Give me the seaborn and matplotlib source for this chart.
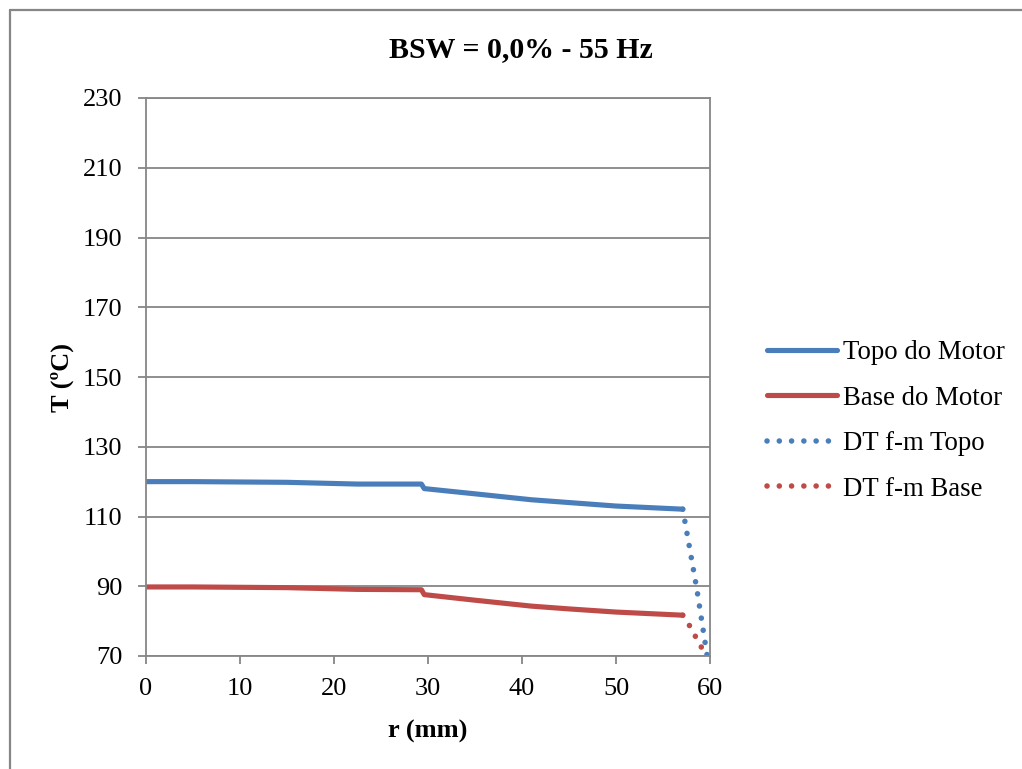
import matplotlib
matplotlib.use("Agg")
import matplotlib.pyplot as plt
from matplotlib.lines import Line2D
import numpy as np
import pandas as pd
import seaborn as sns

# Radial temperature profiles (r in mm, T in ºC)
r_motor = [0, 5, 10, 15, 22.5, 29.3, 29.6, 35, 41, 45, 50, 57.1]
t_topo = [120.0, 120.0, 119.9, 119.8, 119.3, 119.3, 118.0, 116.5, 114.8, 114.0, 113.0, 112.1]
t_base = [89.8, 89.8, 89.7, 89.6, 89.1, 89.0, 87.6, 86.0, 84.3, 83.5, 82.6, 81.7]

# Fluid-motor temperature drop near the wall
r_dt_topo = [57.1, 58.6, 59.7]
t_dt_topo = [112.1, 89.2, 70.0]
r_dt_base = [57.1, 57.8, 59.6]
t_dt_base = [81.7, 78.8, 70.0]

series_names = ["Topo do Motor", "Base do Motor", "DT f-m Topo", "DT f-m Base"]
x_ticks = [0, 10, 20, 30, 40, 50, 60]
y_ticks = [70, 90, 110, 130, 150, 170, 190, 210, 230]

title = "BSW = 0,0% - 55 Hz"
x_label = "r (mm)"
y_label = "T (ºC)"

BLUE = "#4A7EBB"
RED = "#BE4B48"
GRAY = "#868686"

sns.set_theme(style="white")
plt.rcParams["font.family"] = ["Liberation Serif", "DejaVu Serif"]
plt.rcParams["text.color"] = "black"
plt.rcParams["axes.labelcolor"] = "black"

frames = [
    pd.DataFrame({"r": r_motor, "T": t_topo, "serie": series_names[0]}),
    pd.DataFrame({"r": r_motor, "T": t_base, "serie": series_names[1]}),
    pd.DataFrame({"r": r_dt_topo, "T": t_dt_topo, "serie": series_names[2]}),
    pd.DataFrame({"r": r_dt_base, "T": t_dt_base, "serie": series_names[3]}),
]
colors = [BLUE, RED, BLUE, RED]

fig = plt.figure(figsize=(10.22, 7.69), dpi=100)
W, H = 1022, 769
ax = fig.add_axes([146 / W, 1 - 656 / H, (710 - 146) / W, (656 - 98) / H])

lw = 3.7
dot_lw = 4.0
dots = (0, (0.01, 2.2))
for df, c in zip(frames, colors):
    dotted = df["serie"].iloc[0].startswith("DT")
    sns.lineplot(data=df, x="r", y="T", ax=ax, color=c,
                 linewidth=dot_lw if dotted else lw,
                 sort=False, legend=False, estimator=None)
    line = ax.lines[-1]
    line.set_solid_capstyle("round")
    line.set_solid_joinstyle("round")
    if dotted:
        line.set_linestyle(dots)
        line.set_dash_capstyle("round")

ax.set_xlim(0, 60)
ax.set_ylim(70, 230)
ax.set_xticks(x_ticks)
ax.set_yticks(y_ticks)
ax.yaxis.grid(True, color=GRAY, linewidth=1.3)
ax.xaxis.grid(False)
for s in ax.spines.values():
    s.set_color(GRAY)
    s.set_linewidth(1.3)
ax.tick_params(axis="both", which="major", direction="out", length=6,
               width=1.3, color=GRAY, labelsize=19, labelcolor="black")
ax.tick_params(axis="y", pad=11, left=True)
ax.tick_params(axis="x", pad=10, bottom=True)

ax.set_xlabel(x_label, fontsize=19, fontweight="bold", labelpad=14,
              color="black")
ax.set_ylabel(y_label, fontsize=19, fontweight="bold", labelpad=6,
              color="black")
fig.text(521 / W, 1 - 50 / H, title, ha="center", va="center",
         fontsize=21.5, fontweight="bold", color="black")

handles = [
    Line2D([], [], color=BLUE, linewidth=lw, solid_capstyle="round"),
    Line2D([], [], color=RED, linewidth=lw, solid_capstyle="round"),
    Line2D([], [], color=BLUE, linewidth=dot_lw, linestyle=dots,
           dash_capstyle="round"),
    Line2D([], [], color=RED, linewidth=dot_lw, linestyle=dots,
           dash_capstyle="round"),
]
fig.legend(handles, series_names, loc="center left",
           bbox_to_anchor=(767 / W, 1 - 421 / H), frameon=False,
           fontsize=19.3, handlelength=2.6, handletextpad=0.25,
           labelspacing=0.76, borderaxespad=0, borderpad=0,
           labelcolor="black")

# Chart area border (left and top edges)
fig.add_artist(Line2D([9.5 / W, 9.5 / W], [0, 1 - 9.5 / H], color=GRAY,
                      linewidth=1.6, transform=fig.transFigure))
fig.add_artist(Line2D([9.5 / W, 1], [1 - 9.5 / H, 1 - 9.5 / H], color=GRAY,
                      linewidth=1.6, transform=fig.transFigure))

fig.savefig("out.png", dpi=100, facecolor="white")
